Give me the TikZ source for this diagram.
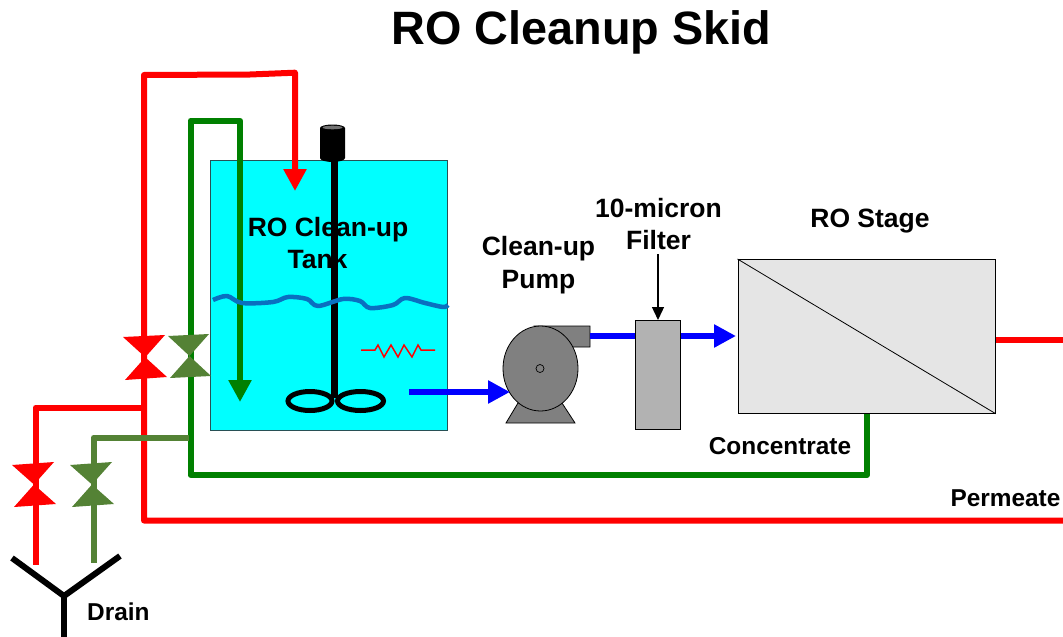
\documentclass[tikz,border=0pt]{standalone}
\usepackage{fontspec}
\setmainfont{Liberation Sans}
\usetikzlibrary{arrows.meta,shapes.geometric}
\definecolor{pipered}{RGB}{255,0,0}
\definecolor{pipegreen}{RGB}{0,128,0}
\definecolor{pipeolive}{RGB}{84,130,53}
\definecolor{pipeblue}{RGB}{0,0,255}
\definecolor{water}{RGB}{10,112,192}
\definecolor{tankfill}{RGB}{0,255,255}
\definecolor{tankedge}{RGB}{40,80,85}
\definecolor{pumpgrey}{RGB}{128,128,128}
\definecolor{filtergrey}{RGB}{178,178,178}
\definecolor{rogrey}{RGB}{229,229,229}
\tikzset{
  pipe/.style={line width=6pt,line join=round},
  flow/.style={pipe,-{Triangle[length=22pt,width=22pt]}},
  label/.style={font=\bfseries\fontsize{26.5}{32}\selectfont,align=center,text=black,inner sep=0pt},
  smalllabel/.style={font=\bfseries\fontsize{24.4}{29}\selectfont,text=black,inner sep=0pt},
  equip/.style={draw=black,line width=0.8pt},
}
\begin{document}
\begin{tikzpicture}[x=1pt,y=-1pt]
\useasboundingbox (0,0) rectangle (1063,637);
% routing points
\coordinate (redIn) at (295,191);
\coordinate (redA) at (295,72.7);
\coordinate (redB) at (250,74.5);
\coordinate (redC) at (144,75);
\coordinate (redD) at (144,520.5);
\coordinate (redEnd) at (1063,520.5);
\coordinate (redT) at (144,407.5);
\coordinate (redL) at (35.5,407.5);
\coordinate (redDrain) at (35.5,565);
\coordinate (grIn) at (240,402);
\coordinate (grA) at (240,120.7);
\coordinate (grB) at (190.5,120.7);
\coordinate (grC) at (190.5,475);
\coordinate (grD) at (867,475);
\coordinate (grE) at (867,413);
\coordinate (olT) at (188.7,437.5);
\coordinate (olL) at (93.5,437.5);
\coordinate (olDrain) at (93.5,563);
\coordinate (yL) at (12,558);
\coordinate (yR) at (120,556);
\coordinate (yC) at (64,596);
\coordinate (yB) at (64,637);
\coordinate (permOut) at (1063,340);
% title
\node[font=\bfseries\fontsize{46.8}{56}\selectfont,inner sep=0pt] (title) at (581.5,32) {RO Cleanup Skid};
% tank
\node[draw=tankedge,fill=tankfill,line width=0.8pt,minimum width=237pt,minimum height=270pt,inner sep=0pt,anchor=north west] (tank) at (210,160) {};
% pipes
\draw[flow,pipered] (redEnd) -- (redD) -- (redC) -- (redB) -- (redA) -- (redIn);
\draw[pipe,pipered,line cap=butt] (redT) -- (redL) -- (redDrain);
\draw[flow,pipegreen] (grE) -- (grD) -- (grC) -- (grB) -- (grA) -- (grIn);
\draw[pipe,pipeolive] (olT) -- (olL) -- (olDrain);
% valves
\fill[pipered] (123,337) -- (165,335) -- (125,380) -- (167,377) -- cycle;
\fill[pipeolive] (168,336) -- (209,334) -- (170,378) -- (211,376) -- cycle;
\fill[pipered] (12,465) -- (54,462) -- (14,507) -- (56,504) -- cycle;
\fill[pipeolive] (70,465) -- (112,462) -- (72,507) -- (114,504) -- cycle;
% drain
\draw[line width=6pt,black] (yL) -- (yC) -- (yR);
\draw[line width=6pt,black] (yC) -- (yB);
\node[smalllabel,anchor=west] (drain) at (87,612) {Drain};
% mixer
\draw[line width=7pt,black] (334.5,160) -- (334.5,398);
\fill[black] (320,128) -- (320,158) arc[start angle=180,end angle=360,x radius=12.5pt,y radius=4pt] -- (345,128) arc[start angle=0,end angle=180,x radius=12.5pt,y radius=3.5pt] -- cycle;
\fill[black!55] (332.5,127.5) ellipse[x radius=10pt,y radius=1.8pt];
\draw[line width=5pt,black] (310,401) ellipse[x radius=22pt,y radius=9.5pt];
\draw[line width=5pt,black] (360.5,401) ellipse[x radius=23pt,y radius=9.5pt];
% water level
\draw[line width=4.5pt,water,line join=round] plot[smooth,tension=0.55] coordinates {(213,300) (227,296) (242,303) (273,302) (288,297) (307,299) (318,306) (343,299) (360,301) (370,308) (393,305) (405,298) (425,303) (443,307) (448,305)};
% heater
\draw[line width=1.5pt,pipered] (361,350) -- (375,350) -- (378,345) -- (384,357) -- (391,345) -- (398,357) -- (404,345) -- (412,357) -- (418,345) -- (421,350) -- (435,350);
% pump
\coordinate (pumpOut) at (590,336);
\coordinate (pumpIn) at (510,392);
\coordinate (tankOut) at (409,392);
\draw[equip,fill=pumpgrey] (535,326) -- (590,326) -- (590,347) -- (573,347) -- cycle;
\draw[equip,fill=pumpgrey] (518,403) -- (506,423) -- (575,423) -- (562,403) -- cycle;
\node[equip,fill=pumpgrey,ellipse,minimum width=75pt,minimum height=85pt,inner sep=0pt] (pump) at (540.5,368.5) {};
\draw[line width=0.7pt] (540,368.5) circle[radius=4pt];
\draw[flow,pipeblue] (tankOut) -- (pumpIn);
% filter
\node[equip,fill=filtergrey,minimum width=45pt,minimum height=109pt,inner sep=0pt,anchor=north west] (filter) at (635,320) {};
\draw[pipe,pipeblue] (pumpOut) -- (filter.west |- pumpOut);
% RO stage
\node[draw=black,fill=rogrey,line width=0.7pt,minimum width=257.5pt,minimum height=154pt,inner sep=0pt,anchor=north west] (ro) at (737.5,259) {};
\draw[line width=0.8pt] (ro.north west) -- (ro.south east);
\draw[flow,pipeblue,shorten >=1.5pt] (filter.east |- pumpOut) -- (ro.west |- pumpOut);
\draw[pipe,pipered] (ro.east |- permOut) -- (permOut);
% labels
\node[label] (tanklabel) at (328,243.5) {RO Clean-up\\Tank\hspace*{21pt}};
\node[label] (pumplabel) at (538.5,265.5) {Clean-up\\[1pt]Pump};
\node[label] (filterlabel) at (658.5,224) {10-micron\\Filter};
\node[label] (rolabel) at (870,221) {RO Stage};
\node[smalllabel] (conc) at (780,446) {Concentrate};
\node[smalllabel] (perm) at (1005.5,498) {Permeate};
\coordinate (filterTag) at (658,254);
\draw[line width=1.3pt,-{Triangle[length=13pt,width=12pt]}] (filterTag) -- (filterTag |- filter.north);
\end{tikzpicture}
\end{document}
